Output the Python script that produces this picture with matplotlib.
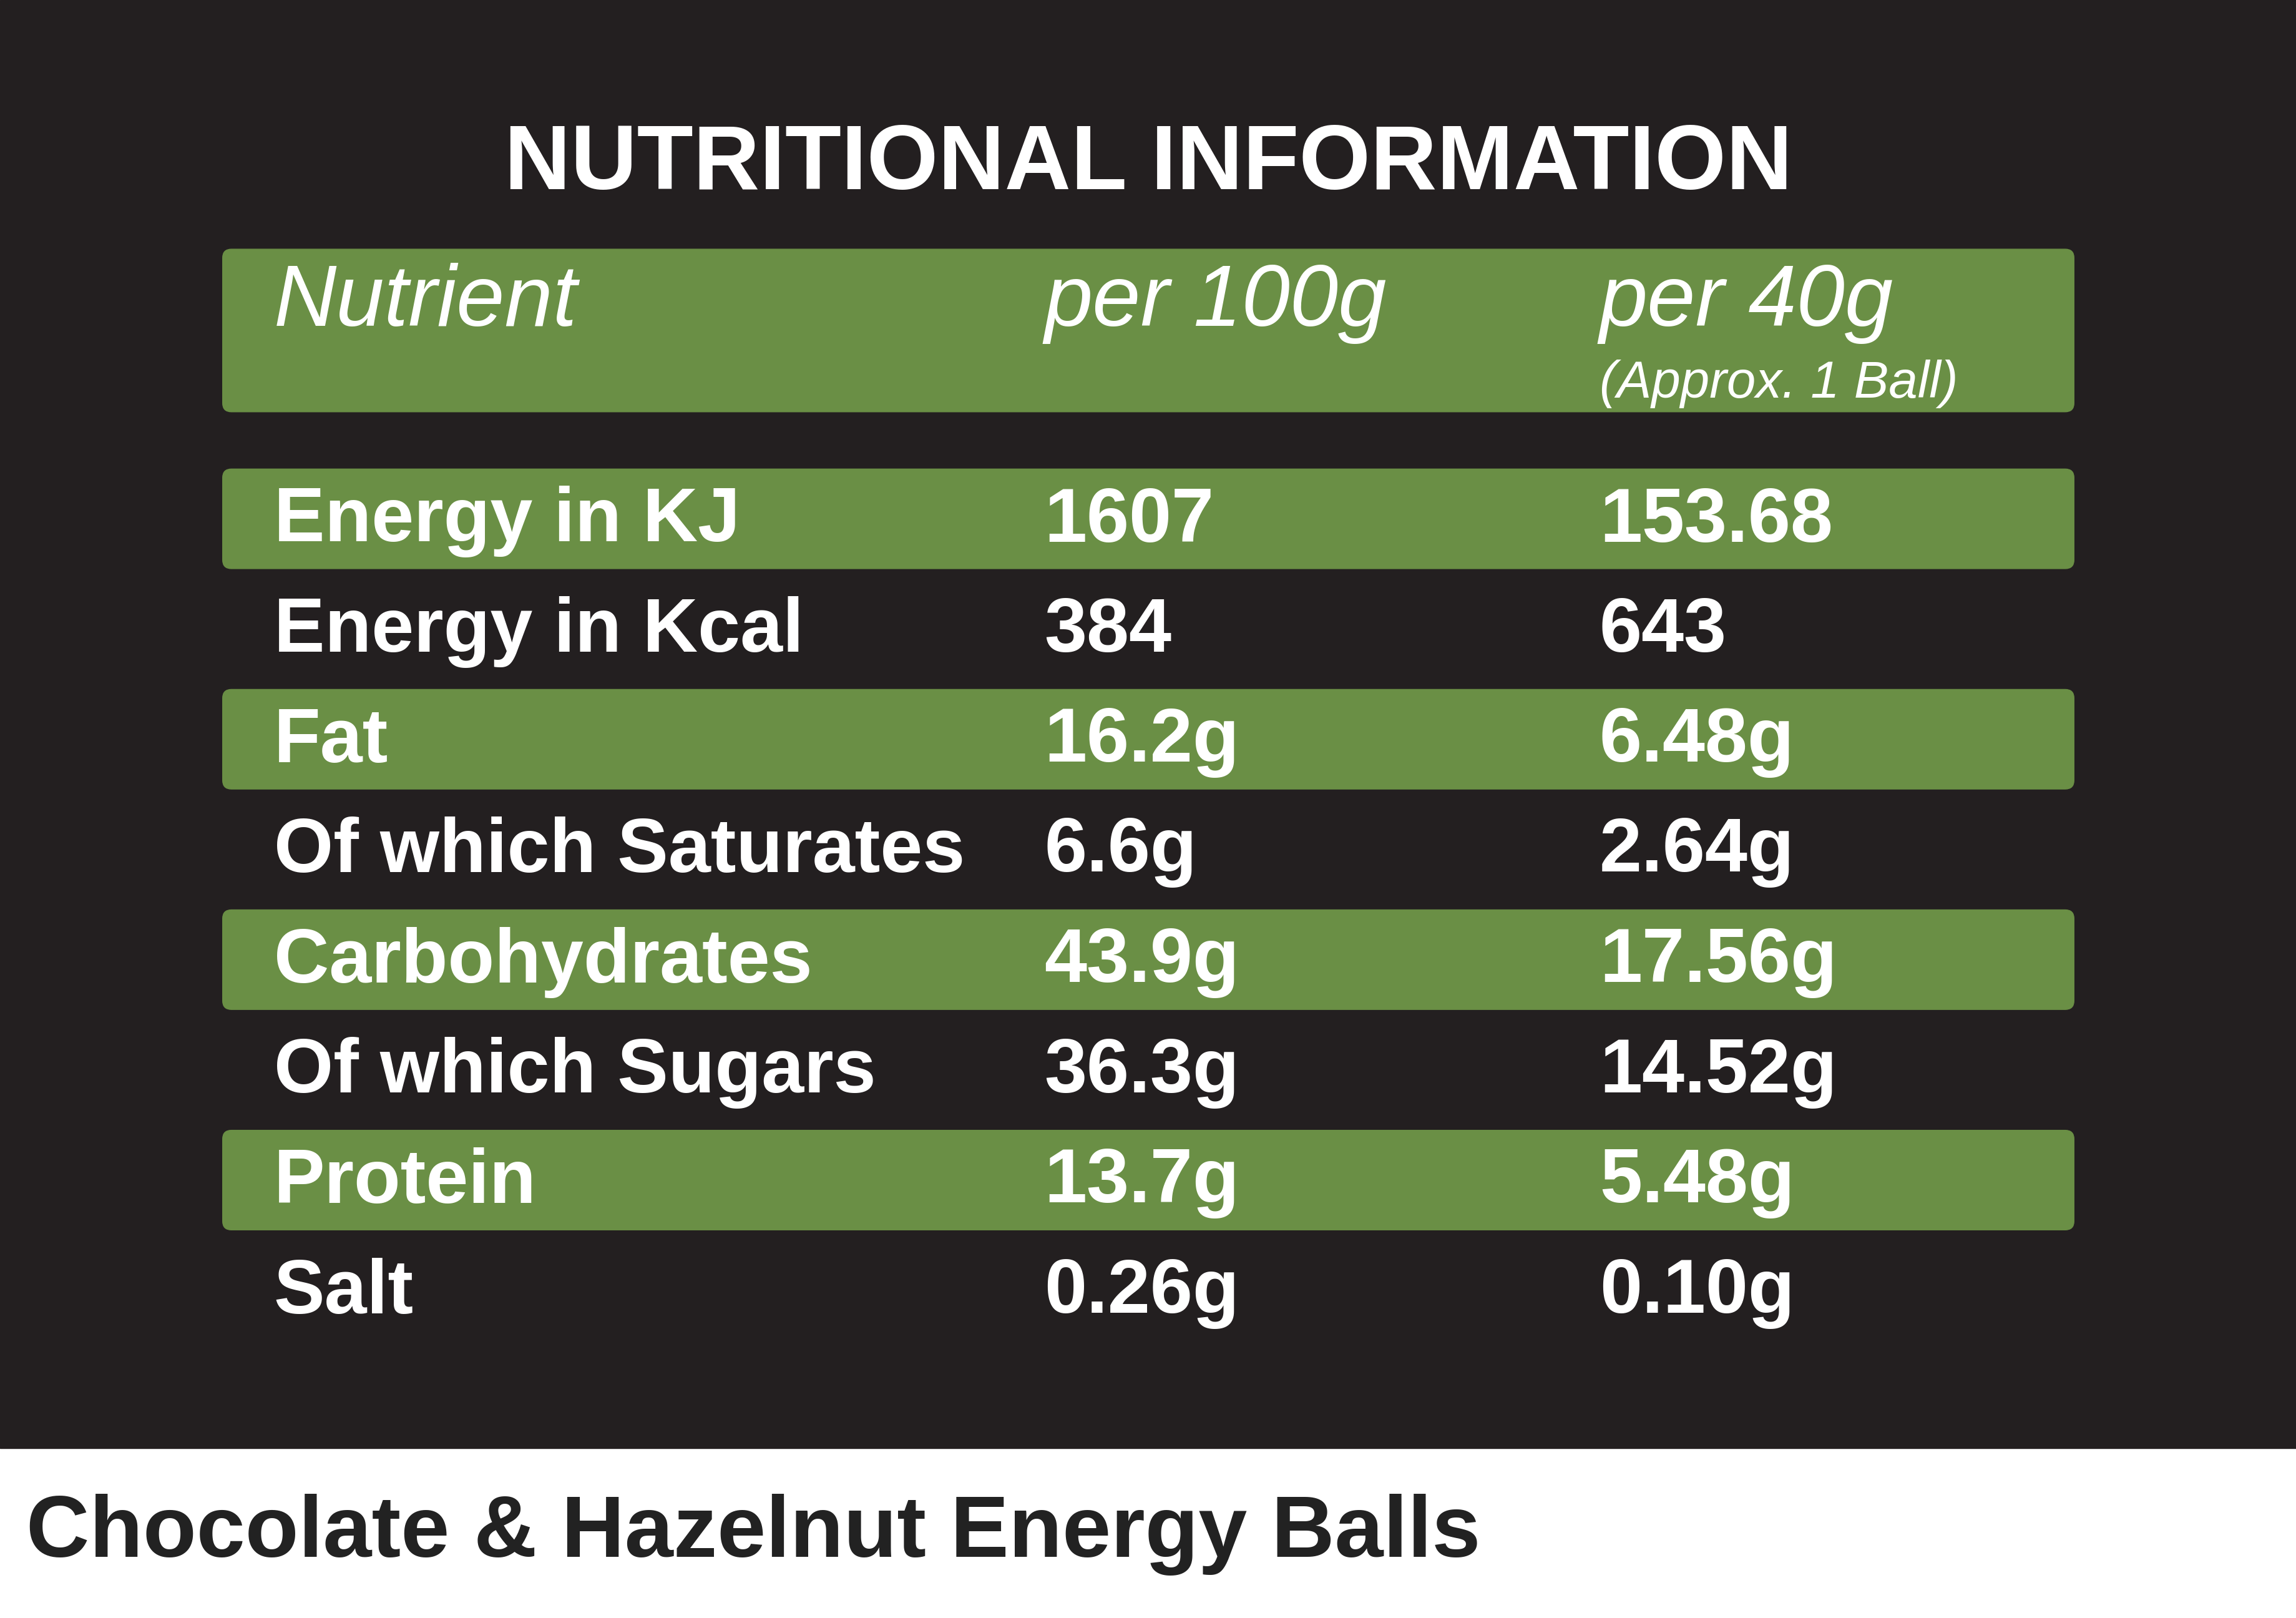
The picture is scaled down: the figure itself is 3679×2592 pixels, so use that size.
import matplotlib.pyplot as plt
from matplotlib.patches import FancyBboxPatch, Rectangle

nutrients = ['Energy in KJ', 'Energy in Kcal', 'Fat', 'Of which Saturates',
             'Carbohydrates', 'Of which Sugars', 'Protein', 'Salt']
per_100g = ['1607', '384', '16.2g', '6.6g', '43.9g', '36.3g', '13.7g', '0.26g']
per_40g = ['153.68', '643', '6.48g', '2.64g', '17.56g', '14.52g', '5.48g', '0.10g']
headers = ['Nutrient', 'per 100g', 'per 40g']

DARK = '#231f20'
GREEN = '#6a8f45'
SANS = 'Liberation Sans'

fig = plt.figure(figsize=(36.8, 25.92), dpi=100)
ax = fig.add_axes([0, 0, 1, 1])
ax.set_xlim(0, 1568)
ax.set_ylim(1104, 0)
ax.axis('off')

ax.add_patch(Rectangle((0, 0), 1568, 988, color=DARK, zorder=0))

ax.text(784, 113, 'NUTRITIONAL INFORMATION', color='white', fontsize=106,
        fontweight='bold', family=SANS, ha='center', va='center')

ax.add_patch(FancyBboxPatch((152, 170), 1264, 111, boxstyle='round,pad=0,rounding_size=6',
                            color=GREEN, zorder=1))
cols = [187, 713, 1092]
for x, h in zip(cols, headers):
    ax.text(x, 207, h, color='white', fontsize=100, style='italic', family=SANS,
            ha='left', va='center', zorder=2)
ax.text(1092, 262, '(Approx. 1 Ball)', color='white', fontsize=60, style='italic',
        family=SANS, ha='left', va='center', zorder=2)

y0, pitch = 354, 75.2
for i, (n, a, b) in enumerate(zip(nutrients, per_100g, per_40g)):
    y = y0 + i * pitch
    if i % 2 == 0:
        ax.add_patch(FancyBboxPatch((152, y - 34), 1264, 68,
                                    boxstyle='round,pad=0,rounding_size=6', color=GREEN, zorder=1))
    for x, t in zip(cols, (n, a, b)):
        ax.text(x, y + 2, t, color='white', fontsize=88, fontweight='bold', family=SANS,
                ha='left', va='center', zorder=2)

ax.text(18, 1047, 'Chocolate & Hazelnut Energy Balls', color='#222222', fontsize=101,
        fontweight='bold', family=SANS, ha='left', va='center')

fig.savefig('out.png', dpi=100, facecolor='white')
